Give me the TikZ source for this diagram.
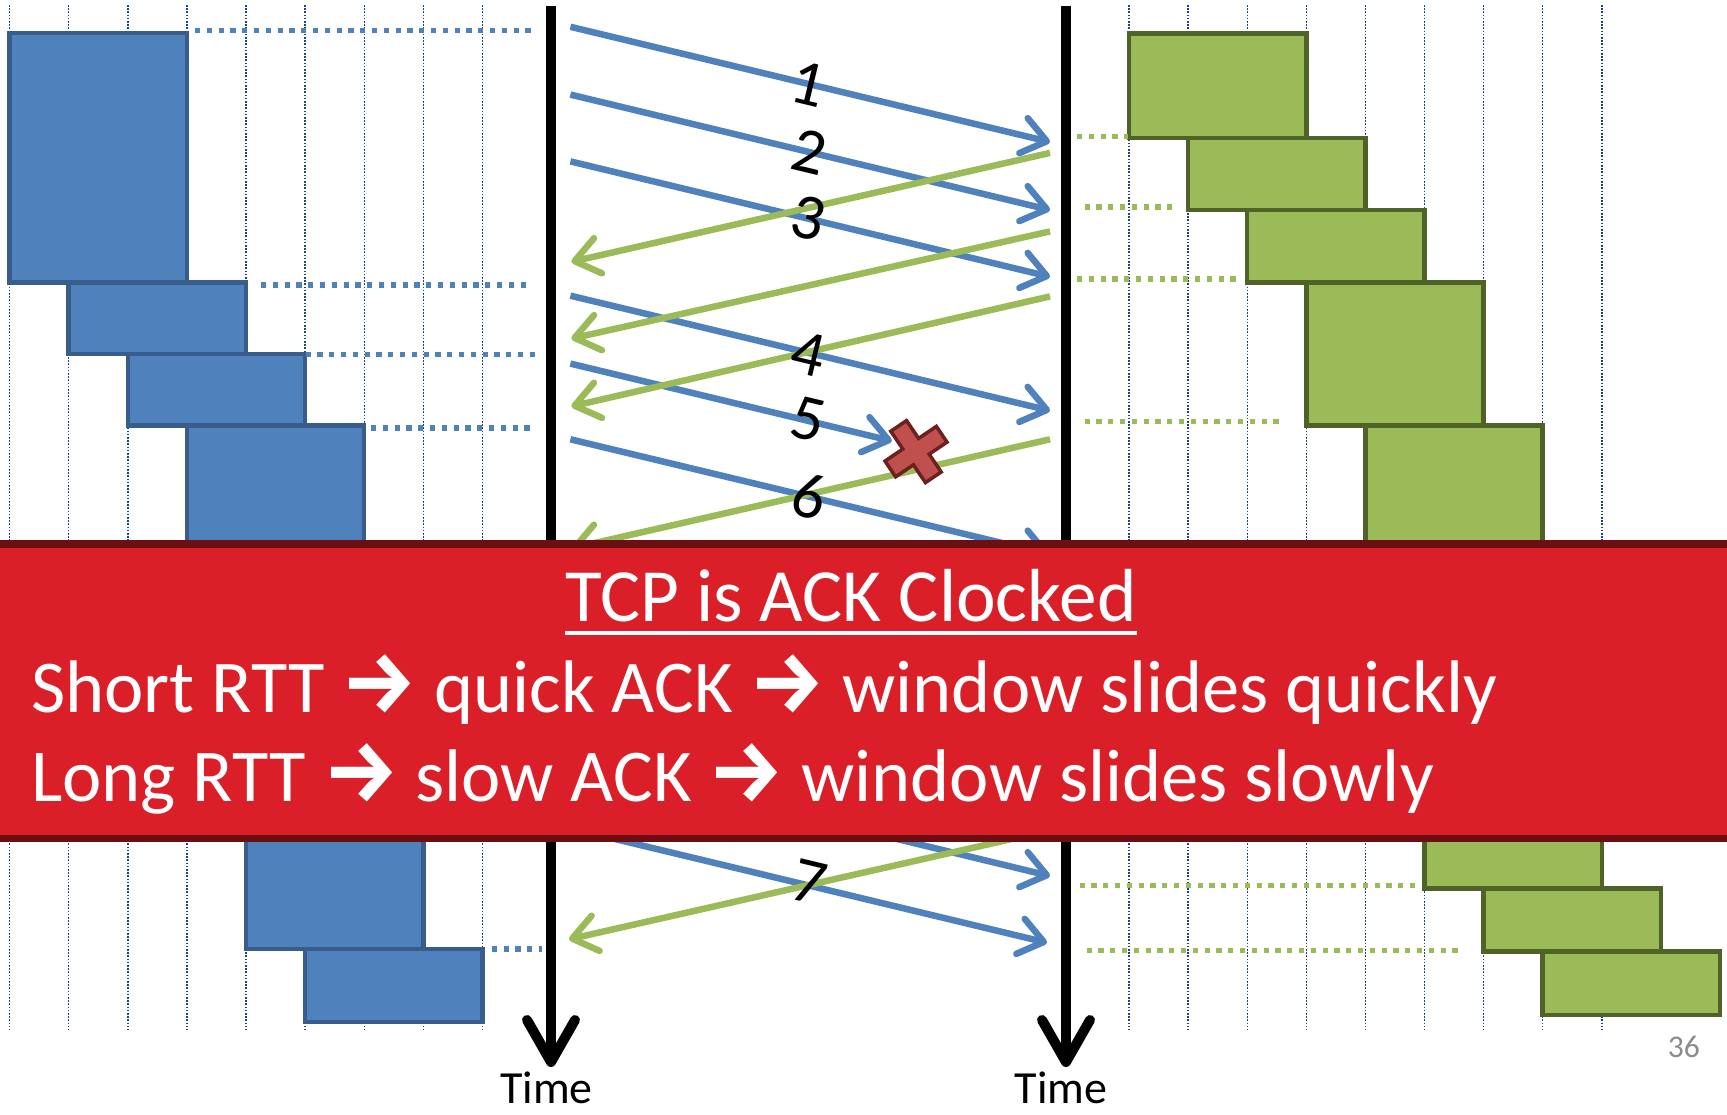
\documentclass[tikz,border=0pt]{standalone}
\usepackage{graphicx}
\usepackage{fontspec}
\setmainfont{Carlito}
\newfontfamily\arrowfont{Fira Sans}
\usetikzlibrary{arrows.meta}

\definecolor{boxblue}{HTML}{4F81BD}
\definecolor{boxblueline}{HTML}{385D8A}
\definecolor{boxgreen}{HTML}{9BBB59}
\definecolor{boxgreenline}{HTML}{4F6228}
\definecolor{gridnavy}{HTML}{1F4280}
\definecolor{lossred}{HTML}{C0504D}
\definecolor{lossline}{HTML}{6B211F}
\definecolor{bannerred}{HTML}{DA1F28}
\definecolor{bannerdark}{HTML}{6D0F12}
\definecolor{pagegrey}{HTML}{8C8C8C}

% heavy right arrow used between the phrases of the banner
\newcommand\ackarrow{\scalebox{1.13}[1.17]{\arrowfont\bfseries →}}

\tikzset{
  gridline/.style={gridnavy, line width=1.4pt, dash pattern=on 1.6pt off 1.6pt},
  sendbox/.style={draw=boxblueline, fill=boxblue, line width=4.5pt, anchor=north west,
    inner sep=0pt, outer sep=0pt, minimum width=177.3pt},
  recvbox/.style={draw=boxgreenline, fill=boxgreen, line width=4.5pt, anchor=north west,
    inner sep=0pt, outer sep=0pt, minimum width=177.3pt},
  bluedots/.style={boxblue, line width=5.2pt, dash pattern=on 5.2pt off 6.6pt},
  greendots/.style={boxgreen, line width=5.2pt, dash pattern=on 5.2pt off 6.6pt},
  timeline/.style={line width=10pt, -{Straight Barb[length=42pt,width=48pt,round]}},
  datapkt/.style={boxblue, line width=6.5pt, -{Straight Barb[length=24pt,width=36pt,round]}},
  ackpkt/.style={boxgreen, line width=6.5pt, -{Straight Barb[length=24pt,width=36pt,round]}},
  seqlabel/.style={font=\fontsize{65}{70}\selectfont, inner sep=0pt, rotate=-13.5},
  timelabel/.style={font=\fontsize{46}{50}\selectfont, inner sep=0pt, anchor=base},
  bannertext/.style={font=\fontsize{74.5}{80}\selectfont, text=white, inner sep=0pt},
}

\begin{document}
\begin{tikzpicture}[x=1pt, y=-1pt]
\useasboundingbox (0,0) rectangle (1727,1114);

% time grid behind the windows
\foreach \k in {0,...,8} {
  \draw[gridline] (9.6+59.1*\k,5) -- (9.6+59.1*\k,1030);
  \draw[gridline] (1129+59.1*\k,5) -- (1129+59.1*\k,1030);
}

% sender windows
\node[sendbox, minimum height=249.7pt] (b1) at (9.6,33) {};
\node[sendbox, minimum height=71.3pt]  (b2) at (68.7,282.7) {};
\node[sendbox, minimum height=71.7pt]  (b3) at (127.8,354) {};
\node[sendbox, minimum height=194pt]   (b4) at (186.9,425.7) {};
\node[sendbox, minimum height=329.2pt] (b5) at (246,620) {};
\node[sendbox, minimum height=72.8pt]  (b6) at (305.1,949.2) {};

% receiver windows
\node[recvbox, minimum height=104.4pt] (g1) at (1129,33.5) {};
\node[recvbox, minimum height=72.1pt]  (g2) at (1188.1,137.9) {};
\node[recvbox, minimum height=72.3pt]  (g3) at (1247.2,210) {};
\node[recvbox, minimum height=143.4pt] (g4) at (1306.3,282.3) {};
\node[recvbox, minimum height=214.3pt] (g5) at (1365.4,425.7) {};
\node[recvbox, minimum height=248.3pt] (g6) at (1424.5,640) {};
\node[recvbox, minimum height=63.4pt]  (g7) at (1483.6,888.3) {};
\node[recvbox, minimum height=63.3pt]  (g8) at (1542.7,951.7) {};

% dotted guides from the windows to the time lines
\coordinate (bd1a) at (195,30.4);   \coordinate (bd1b) at (536.5,30.4);
\coordinate (bd2a) at (261,285);    \coordinate (bd2b) at (531,285);
\coordinate (bd3a) at (305.6,354.3);\coordinate (bd3b) at (534.6,354.3);
\coordinate (bd4a) at (371,428);    \coordinate (bd4b) at (532.7,428);
\coordinate (bd5a) at (491.8,949);  \coordinate (bd5b) at (541.5,949);
\foreach \i in {1,...,5} \draw[bluedots] (bd\i a) -- (bd\i b);

\coordinate (gd1a) at (1077,136.8);   \coordinate (gd1b) at (1128,136.8);
\coordinate (gd2a) at (1084.5,207);   \coordinate (gd2b) at (1174,207);
\coordinate (gd3a) at (1077,279);     \coordinate (gd3b) at (1238,279);
\coordinate (gd4a) at (1084.5,421.4); \coordinate (gd4b) at (1282,421.4);
\coordinate (gd5a) at (1079.6,885.7); \coordinate (gd5b) at (1420,885.7);
\coordinate (gd6a) at (1086.5,950.7); \coordinate (gd6b) at (1462,950.7);
\foreach \i in {1,...,6} \draw[greendots] (gd\i a) -- (gd\i b);

% sender and receiver time lines
\coordinate (sTop) at (551,6.4);  \coordinate (sBot) at (551,1067);
\coordinate (rTop) at (1066,6.4); \coordinate (rBot) at (1066,1067);
\draw[timeline] (sTop) -- (sBot);
\draw[timeline] (rTop) -- (rBot);

% data segments
\coordinate (d1s) at (570.4,26.8);  \coordinate (d1e) at (1050,142);
\coordinate (d2s) at (570.4,94.6);  \coordinate (d2e) at (1050,210);
\coordinate (d3s) at (570.4,161.4); \coordinate (d3e) at (1050,276.8);
\coordinate (d4s) at (570.4,295.7); \coordinate (d4e) at (1050,410.7);
\coordinate (d5s) at (570.4,363.6); \coordinate (d5e) at (891.8,441);
\coordinate (d6s) at (570.4,439.3); \coordinate (d6e) at (1050,554.5);
\coordinate (d7s) at (570.4,760);   \coordinate (d7e) at (1050,876);
\coordinate (d8s) at (570.4,828.3); \coordinate (d8e) at (1047,942.7);
\foreach \i in {1,...,8} \draw[datapkt] (d\i s) -- (d\i e);

% acknowledgements
\coordinate (a1s) at (1050,152.9); \coordinate (a1e) at (571.4,261.8);
\coordinate (a2s) at (1050,231.4); \coordinate (a2e) at (571.4,338.6);
\coordinate (a3s) at (1050,296.4); \coordinate (a3e) at (571.4,406.4);
\coordinate (a4s) at (1050,439.3); \coordinate (a4e) at (571.4,548.3);
\coordinate (a5s) at (1050,830.3); \coordinate (a5e) at (569,939.3);
\foreach \i in {1,...,5} \draw[ackpkt] (a\i s) -- (a\i e);

% segment numbers
\node[seqlabel] (n1) at (808,84) {1};
\node[seqlabel] (n2) at (809.6,151.8) {2};
\node[seqlabel] (n3) at (808,217.9) {3};
\node[seqlabel] (n4) at (808,353.6) {4};
\node[seqlabel] (n5) at (808,419.6) {5};
\node[seqlabel] (n6) at (809.6,496.4) {6};
\node[seqlabel] (n7) at (809.8,881.7) {7};

% lost segment marker
\begin{scope}[shift={(916,451.6)}, rotate=34]
  \draw[fill=lossred, draw=lossline, line width=3.5pt, line join=miter]
    (31,-9.5) -- (31,9.5) -- (9.5,9.5) -- (9.5,31) -- (-9.5,31) -- (-9.5,9.5)
    -- (-31,9.5) -- (-31,-9.5) -- (-9.5,-9.5) -- (-9.5,-31) -- (9.5,-31)
    -- (9.5,-9.5) -- cycle;
\end{scope}

% time labels
\node[timelabel] (tL) at (546.5,1103) {Time};
\node[timelabel] (tR) at (1061,1103) {Time};

% summary banner
\fill[bannerdark] (0,540) rectangle (1727,841.7);
\fill[bannerred] (0,548.3) rectangle (1727,834.5);
\node[bannertext, font=\fontsize{75.2}{80}\selectfont, anchor=base] (title) at (850.8,621.7) {TCP is ACK Clocked};
\draw[white, line width=4.5pt] ([yshift=-11.5pt]title.base west) -- ([yshift=-11.5pt]title.base east);
\node[bannertext, anchor=base west] (short) at (31,712.7)
  {Short RTT \ackarrow{} quick ACK \ackarrow{} window slides quickly};
\node[bannertext, anchor=base west] (long) at (31,801.7)
  {Long RTT \ackarrow{} slow ACK \ackarrow{} window slides slowly};

% page number
\node[font=\fontsize{31.6}{34}\selectfont, text=pagegrey, inner sep=0pt, anchor=base east]
  (pgnum) at (1700,1057) {36};
\end{tikzpicture}
\end{document}
